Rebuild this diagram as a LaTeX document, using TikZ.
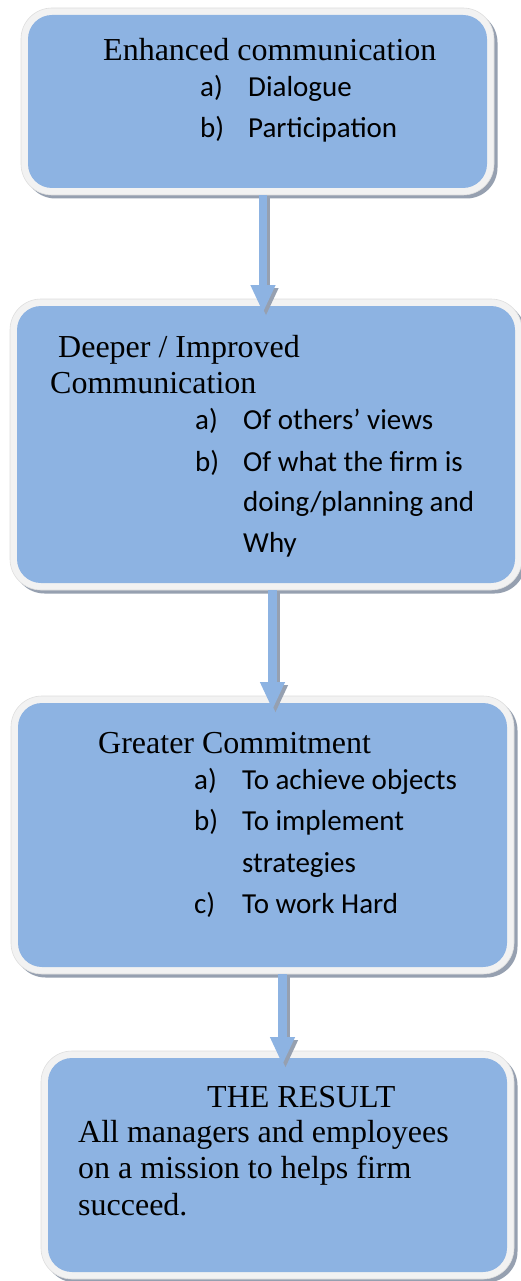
\documentclass[tikz,border=0pt]{standalone}
\usepackage{fontspec}
\setmainfont{Liberation Serif}
\newfontfamily\itemfont{Carlito}
\usetikzlibrary{arrows.meta}

\definecolor{stageblue}{RGB}{141,179,226}
\definecolor{stageframe}{RGB}{242,242,242}
\definecolor{frameedge}{RGB}{222,222,222}
\definecolor{stageshade}{RGB}{150,160,176}

\tikzset{
  stage/.style={rectangle, rounded corners=24pt, fill=stageblue,
    inner sep=0pt, outer sep=0pt},
  framefill/.style={fill=stageframe, draw=frameedge, line width=0.6pt,
    rounded corners=31pt},
  frameshade/.style={fill=stageshade, rounded corners=31pt},
  heading/.style={anchor=base west, inner sep=0pt, font=\fontsize{32}{37}\selectfont},
  listtext/.style={anchor=base west, inner sep=0pt, font=\itemfont\fontsize{29}{35}\selectfont},
  flowarrow/.style={draw=stageblue, line width=8.5pt,
    -{Triangle[width=23pt,length=28pt]}},
  arrowshade/.style={draw=stageshade, line width=8.5pt,
    -{Triangle[width=23pt,length=28pt]},
    transform canvas={shift={(3pt,-3pt)}}},
}

% #1 name, (#2,#3) top left and (#4,#5) bottom right of the blue panel
\newcommand\stagebox[5]{%
  \fill[frameshade] (#2-7+3.5,#3-7+3.5) rectangle (#4+7+3.5,#5+7+3.5);
  \filldraw[framefill] (#2-7,#3-7) rectangle (#4+7,#5+7);
  \node[stage, minimum width={(#4-#2)*1pt}, minimum height={(#5-#3)*1pt}]
    (#1) at ({(#2+#4)/2},{(#3+#5)/2}) {};
}

\begin{document}
\begin{tikzpicture}[x=1pt, y=-1pt]
\useasboundingbox[fill=white] (0,0) rectangle (521,1281);

% panels
\stagebox{b1}{28}{15}{487}{188}
\stagebox{b2}{17}{306}{515}{583}
\stagebox{b3}{18}{703}{507}{967}
\stagebox{b4}{48}{1058}{507}{1272}

% connectors
\draw[arrowshade] ([xshift=5.5pt,yshift=-7pt]b1.south) -- ([xshift=5.5pt,yshift=-7pt]b1.south |- b2.north);
\draw[flowarrow]  ([xshift=5.5pt,yshift=-7pt]b1.south) -- ([xshift=5.5pt,yshift=-7pt]b1.south |- b2.north);
\draw[arrowshade] ([xshift=6.5pt,yshift=-7pt]b2.south) -- ([xshift=6.5pt,yshift=-7pt]b2.south |- b3.north);
\draw[flowarrow]  ([xshift=6.5pt,yshift=-7pt]b2.south) -- ([xshift=6.5pt,yshift=-7pt]b2.south |- b3.north);
\draw[arrowshade] ([xshift=20pt,yshift=-7pt]b3.south) -- ([xshift=20pt,yshift=-7pt]b3.south |- b4.north);
\draw[flowarrow]  ([xshift=20pt,yshift=-7pt]b3.south) -- ([xshift=20pt,yshift=-7pt]b3.south |- b4.north);

% panel 1
\node[heading] (t1) at (103,61) {Enhanced communication};
\node[listtext] (l1a) at (200,97) {a)};
\node[listtext] (i1a) at (248,97) {Dialogue};
\node[listtext] (l1b) at (200,138) {b)};
\node[listtext] (i1b) at (248,138) {Participation};

% panel 2
\node[heading] (t2a) at (58,357) {Deeper / Improved};
\node[heading] (t2b) at (50,393) {Communication};
\node[listtext] (l2a) at (195,429) {a)};
\node[listtext] (i2a) at (243,429) {Of others’ views};
\node[listtext] (l2b) at (195,471) {b)};
\node[listtext] (i2b) at (243,471) {Of what the firm is};
\node[listtext] (i2c) at (243,511) {doing/planning and};
\node[listtext] (i2d) at (243,552) {Why};

% panel 3
\node[heading] (t3) at (98,753) {Greater Commitment};
\node[listtext] (l3a) at (194,789) {a)};
\node[listtext] (i3a) at (242,789) {To achieve objects};
\node[listtext] (l3b) at (194,830) {b)};
\node[listtext] (i3b) at (242,830) {To implement};
\node[listtext] (i3c) at (242,872) {strategies};
\node[listtext] (l3c) at (194,913) {c)};
\node[listtext] (i3d) at (242,913) {To work Hard};

% panel 4
\node[heading] (t4) at (207,1107) {THE RESULT};
\node[heading] (r1) at (78,1142) {All managers and employees};
\node[heading] (r2) at (78,1178) {on a mission to helps firm};
\node[heading] (r3) at (78,1215) {succeed.};
\end{tikzpicture}
\end{document}
